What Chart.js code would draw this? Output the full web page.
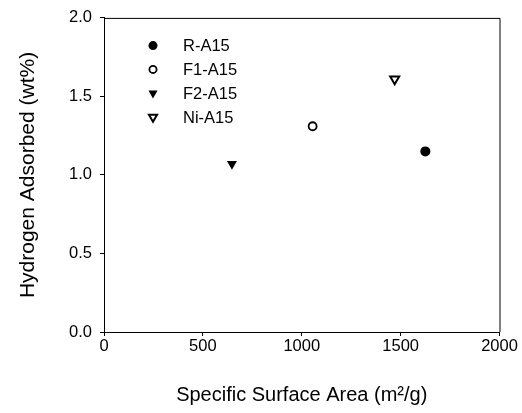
<!DOCTYPE html>
<html>
<head>
<meta charset="utf-8">
<script src="https://cdn.jsdelivr.net/npm/chart.js@4/dist/chart.umd.min.js"></script>
<style>
  body { margin: 0; background: #fff; }
  #wrap { width: 522px; height: 413px; position: relative; }
</style>
</head>
<body>
<div id="wrap"><canvas id="h2Chart"></canvas></div>
<script>
// Dữ liệu
const sampleNames = ['R-A15', 'F1-A15', 'F2-A15', 'Ni-A15'];
const surfaceArea = [1625, 1055, 647, 1470];   // m2/g
const hydrogenWt = [1.15, 1.31, 1.07, 1.61];   // wt%
const xTickStep = 500;
const yTickStep = 0.5;

const FONT = "'Liberation Sans', Arial, Helvetica, sans-serif";

// kiểu điểm cho từng mẫu
function markerStyle(i) {
  if (i === 0) return { pointStyle: 'circle', radius: 5, rotation: 0, fill: '#000', border: 0 };
  if (i === 1) return { pointStyle: 'circle', radius: 4, rotation: 0, fill: '#fff', border: 1.8 };
  if (i === 2) return { pointStyle: 'triangle', radius: 5.8, rotation: 180, fill: '#000', border: 0 };
  return { pointStyle: 'triangle', radius: 5.2, rotation: 180, fill: '#fff', border: 2 };
}

const datasets = sampleNames.map(function(name, i) {
  const s = markerStyle(i);
  return {
    label: name,
    data: [{ x: surfaceArea[i], y: hydrogenWt[i] }],
    pointStyle: s.pointStyle,
    pointRadius: s.radius,
    pointRotation: s.rotation,
    pointBackgroundColor: s.fill,
    pointBorderColor: '#000',
    pointBorderWidth: s.border
  };
});

// khung bao quanh vùng vẽ + chú giải bên trong
const framePlugin = {
  id: 'frame',
  afterDraw: function(chart) {
    const ctx = chart.ctx;
    const a = chart.chartArea;
    ctx.save();
    ctx.strokeStyle = '#000';
    ctx.lineWidth = 1;
    ctx.beginPath();
    ctx.moveTo(a.left, a.top + 0.5);
    ctx.lineTo(a.right + 0.5, a.top + 0.5);
    ctx.lineTo(a.right + 0.5, a.bottom);
    ctx.stroke();

    // chú giải
    const lx = a.left + 49;
    const ly = a.top + 27.7;
    const rowH = 23.8;
    ctx.font = '16.5px ' + FONT;
    ctx.textBaseline = 'middle';
    ctx.textAlign = 'left';
    chart.data.datasets.forEach(function(ds, i) {
      const y = ly + i * rowH;
      ctx.fillStyle = ds.pointBackgroundColor;
      ctx.strokeStyle = '#000';
      ctx.lineWidth = ds.pointBorderWidth;
      Chart.helpers.drawPoint(ctx, {
        pointStyle: ds.pointStyle,
        radius: ds.pointRadius * 0.9,
        rotation: ds.pointRotation,
        borderWidth: ds.pointBorderWidth
      }, lx, y);
      ctx.fillStyle = '#000';
      ctx.fillText(ds.label, lx + 30, y + 1);
    });
    ctx.restore();
  }
};

new Chart(document.getElementById('h2Chart'), {
  type: 'scatter',
  data: { datasets: datasets },
  options: {
    responsive: true,
    maintainAspectRatio: false,
    animation: false,
    layout: { padding: { top: 16, right: 22.5, left: 0, bottom: 0 } },
    plugins: {
      legend: { display: false },
      tooltip: { enabled: false }
    },
    scales: {
      x: {
        type: 'linear',
        min: 0,
        max: 2000,
        ticks: {
          stepSize: xTickStep,
          color: '#000',
          padding: 1,
          font: { family: FONT, size: 16.5 },
          maxRotation: 0,
          callback: function(v) { return String(v); }
        },
        grid: { drawOnChartArea: false, drawTicks: true, tickLength: 4, color: '#000' },
        border: { display: true, color: '#000', width: 1 },
        title: {
          display: true,
          text: 'Specific Surface Area (m²/g)',
          color: '#000',
          font: { family: FONT, size: 20 },
          padding: { top: 0, bottom: 6 }
        },
        afterFit: function(scale) { scale.height = 81; }
      },
      y: {
        type: 'linear',
        min: 0,
        max: 2,
        ticks: {
          stepSize: yTickStep,
          color: '#000',
          padding: 8,
          font: { family: FONT, size: 16.5 },
          callback: function(v) { return v.toFixed(1); }
        },
        grid: { drawOnChartArea: false, drawTicks: true, tickLength: 4, color: '#000' },
        border: { display: true, color: '#000', width: 1 },
        title: {
          display: true,
          text: 'Hydrogen Adsorbed (wt%)',
          color: '#000',
          font: { family: FONT, size: 21 },
          padding: { top: 16, bottom: 0 }
        },
        afterFit: function(scale) { scale.width = 104; }
      }
    }
  },
  plugins: [framePlugin]
});
</script>
</body>
</html>
